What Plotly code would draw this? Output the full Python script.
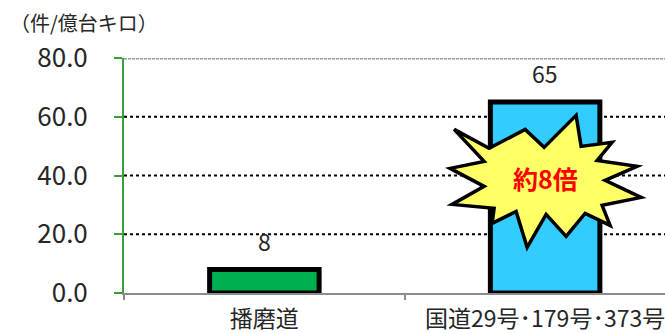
import plotly.graph_objects as go

# ---- data ----
categories = ["播磨道", "国道29号･179号･373号"]
values = [8, 65]
bar_colors = ["#00B050", "#33CCFF"]
value_labels = ["8", "65"]
ytick_vals = [0, 20, 40, 60, 80]
ytick_text = ["0.0", "20.0", "40.0", "60.0", "80.0"]
unit_title = "（件/億台キロ）"
callout_text = "約8倍"

# ---- layout geometry ----
W, H = 665, 333
ML, MR, MT, MB = 124, 0, 58, 40
XR = [-0.5, 1.427]
YR = [0, 80]
plot_w = W - ML - MR
plot_h = H - MT - MB
px_per_x = plot_w / (XR[1] - XR[0])
px_per_y = plot_h / (YR[1] - YR[0])

FONT = "Noto Sans CJK JP"

fig = go.Figure()
fig.add_trace(go.Bar(
    x=categories, y=values, width=0.39,
    marker=dict(color=bar_colors, line=dict(color="black", width=5)),
    hoverinfo="skip",
))

shapes = []
# gridlines
for v in ytick_vals[1:-1]:
    shapes.append(dict(type="line", xref="paper", yref="y", x0=0, x1=1, y0=v, y1=v,
                       line=dict(color="black", width=2, dash="dot"), layer="below"))
shapes.append(dict(type="line", xref="paper", yref="y", x0=0, x1=1, y0=ytick_vals[-1], y1=ytick_vals[-1],
                   line=dict(color="#9a9a9a", width=3, dash="3px,1px"), layer="below"))

# starburst callout (pixel offsets around a centre in data coords)
star_cx, star_cy = 1.0, 38.0
star_px = [(-91, -52), (-56, -33), (-20, -52), (-1, -34), (31, -66), (36, -35),
           (67, -39), (52, -21), (92, -15), (60, -1), (96, 16), (57, 24),
           (65, 44), (40, 32), (21, 55), (1, 33), (-18, 66), (-29, 30),
           (-53, 42), (-51, 27), (-93, 23), (-61, 5), (-95, -13), (-61, -20)]
pts = [(star_cx + dx / px_per_x, star_cy - dy / px_per_y) for dx, dy in star_px]
path = "M " + " L ".join(f"{x:.4f},{y:.4f}" for x, y in pts) + " Z"
shapes.append(dict(type="path", xref="x", yref="y", path=path,
                   fillcolor="#FFFF66", line=dict(color="black", width=3.5), layer="above"))

annotations = []
for c, v, t in zip(categories, values, value_labels):
    annotations.append(dict(x=c, y=v, xref="x", yref="y", text=t, showarrow=False,
                            yshift=29, yanchor="middle",
                            font=dict(family=FONT, size=23, color="#262626")))
annotations.append(dict(x=star_cx, y=star_cy + 1.0, xref="x", yref="y", text=callout_text,
                        showarrow=False, font=dict(family=FONT, size=25, color="#FF0000", weight="bold")))
annotations.append(dict(xref="paper", yref="paper", x=(8 - ML) / plot_w, y=1 + (MT - 22) / plot_h,
                        xanchor="left", yanchor="middle", text=unit_title, showarrow=False,
                        font=dict(family=FONT, size=20, color="#262626")))

fig.update_layout(
    width=W, height=H, margin=dict(l=ML, r=MR, t=MT, b=MB, autoexpand=False),
    paper_bgcolor="white", plot_bgcolor="white",
    showlegend=False, shapes=shapes, annotations=annotations,
    font=dict(family=FONT, color="#262626"),
    xaxis=dict(range=XR, type="category", showgrid=False, zeroline=False, automargin=False,
               showline=True, linecolor="#8c8c8c", linewidth=2,
               ticks="outside", tickson="boundaries", ticklen=5, tickcolor="#8c8c8c", tickwidth=1.5,
               tickfont=dict(family=FONT, size=23, color="#262626"), ticklabelstandoff=4),
    yaxis=dict(range=YR, tickvals=ytick_vals, ticktext=ytick_text, showgrid=False, zeroline=False,
               automargin=False,
               showline=True, linecolor="#3A9E3A", linewidth=2,
               ticks="outside", ticklen=8, tickcolor="#3A9E3A", tickwidth=2,
               tickfont=dict(family=FONT, size=26, color="#262626"), ticklabelstandoff=21),
)

fig.write_html("out.html")
